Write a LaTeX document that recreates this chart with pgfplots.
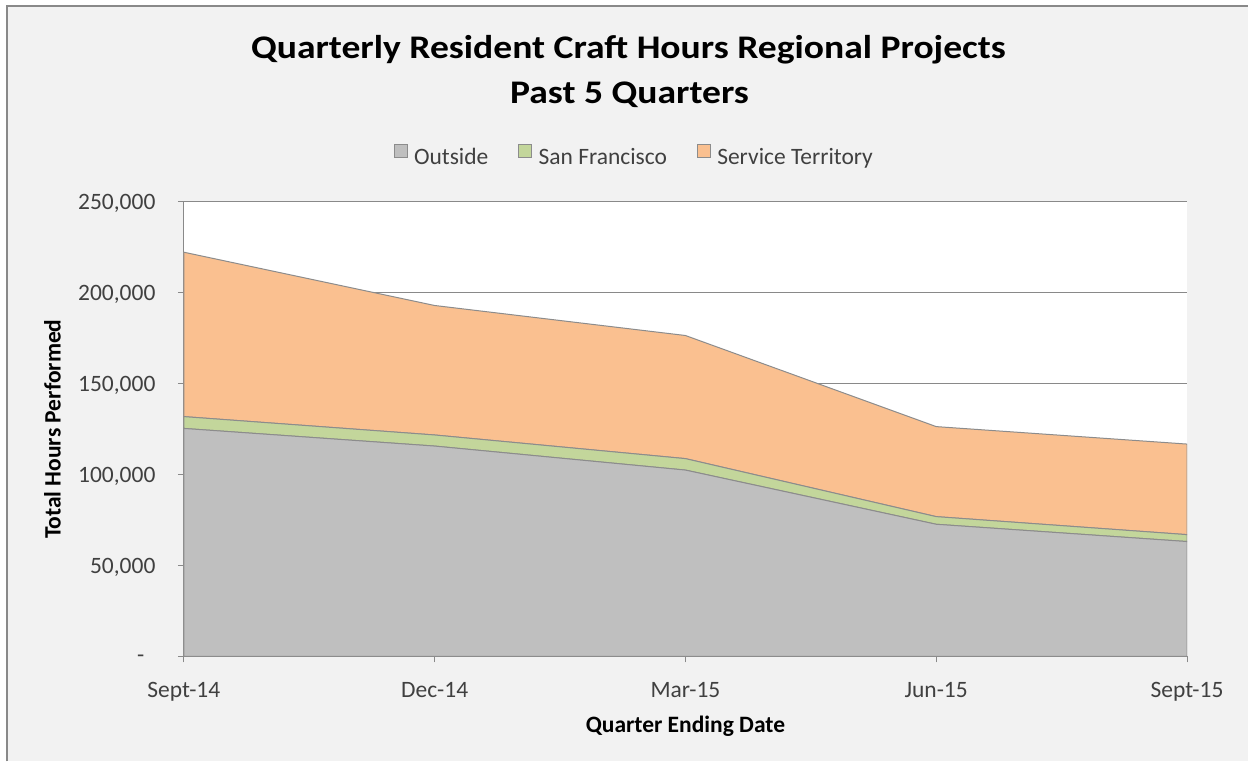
\documentclass[border=0pt]{standalone}
\usepackage{fontspec}
\setmainfont{Carlito}
\newfontfamily\titlefont[FakeStretch=1.14]{Carlito}
\usepackage{pgfplots}
\pgfplotsset{compat=1.18}
\definecolor{bgc}{HTML}{F2F2F2}
\definecolor{outc}{HTML}{BFBFBF}
\definecolor{sfc}{HTML}{C3D69B}
\definecolor{stc}{HTML}{FAC090}
\definecolor{edgec}{HTML}{8C8C8C}
\definecolor{axc}{HTML}{898989}
\definecolor{txtc}{HTML}{404040}
\begin{document}
\begin{tikzpicture}[x=1pt,y=1pt]
\fill[white] (0,0) rectangle (1249,762);
\fill[bgc] (7.3,0) rectangle (1249,755.7);
\draw[axc, line width=2pt] (7.3,0) -- (7.3,755.7) -- (1249,755.7);
\node[font=\fontsize{33}{40}\titlefont\bfseries, anchor=base, inner sep=0pt] at (629,703) {Quarterly Resident Craft Hours Regional Projects};
\node[font=\fontsize{33}{40}\titlefont\bfseries, anchor=base, inner sep=0pt] at (630,658.7) {Past 5 Quarters};
\begin{axis}[
  at={(184pt,105pt)}, anchor=south west,
  scale only axis, width=1004pt, height=455pt,
  xmin=0, xmax=4, ymin=0, ymax=250000,
  xtick={0,1,2,3,4},
  xticklabels={Sept-14,Dec-14,Mar-15,Jun-15,Sept-15},
  ytick={0,50000,100000,150000,200000,250000},
  yticklabels={{-\rule{11pt}{0pt}},{50,000},{100,000},{150,000},{200,000},{250,000}},
  scaled y ticks=false,
  axis lines*=left,
  axis line style={axc, line width=1pt},
  tick style={axc, line width=1pt},
  tick align=outside, major tick length=6pt,
  ymajorgrids, grid style={axc, line width=1pt},
  axis background/.style={fill=white},
  ticklabel style={font=\fontsize{23.5}{28}\selectfont, text=txtc},
  every y tick label/.style={anchor=east, inner sep=0pt, xshift=-22.3pt, yshift=-2pt},
  every x tick label/.style={anchor=base, inner sep=0pt, yshift=-35pt},
  every axis x label/.style={at={(axis description cs:0.5,-0.167)}, anchor=base, font=\fontsize{23.5}{28}\selectfont\bfseries},
  every axis y label/.style={at={(axis description cs:-0.131,0.5)}, rotate=90, anchor=center, font=\fontsize{23.5}{28}\selectfont\bfseries},
  xlabel={Quarter Ending Date},
  ylabel={Total Hours Performed},
  stack plots=y,
  legend columns=-1,
  legend style={at={(axis description cs:0.448,1.103)}, anchor=center, draw=none, fill=none,
    font=\fontsize{23.5}{28}\selectfont, text=txtc, nodes={inner sep=0pt},
    /tikz/every even column/.append style={column sep=30pt},
    /tikz/every odd column/.append style={column sep=6.5pt}},
  legend image code/.code={\draw[#1, draw=edgec, line width=0.8pt] (0pt,-1pt) rectangle (13pt,12pt);},
]
\addplot[fill=outc, draw=edgec, line width=1pt] table[x=x,y=y] {
x y
0 125400
1 115700
2 102500
3 72700
4 63200
} \closedcycle;
\addlegendentry{Outside}
\addplot[fill=sfc, draw=edgec, line width=1pt] table[x=x,y=y] {
x y
0 6500
1 6100
2 6300
3 4200
4 3800
} \closedcycle;
\addlegendentry{San Francisco}
\addplot[fill=stc, draw=edgec, line width=1pt] table[x=x,y=y] {
x y
0 90400
1 71200
2 67700
3 49500
4 49800
} \closedcycle;
\addlegendentry{Service Territory}
\end{axis}
\end{tikzpicture}
\end{document}
